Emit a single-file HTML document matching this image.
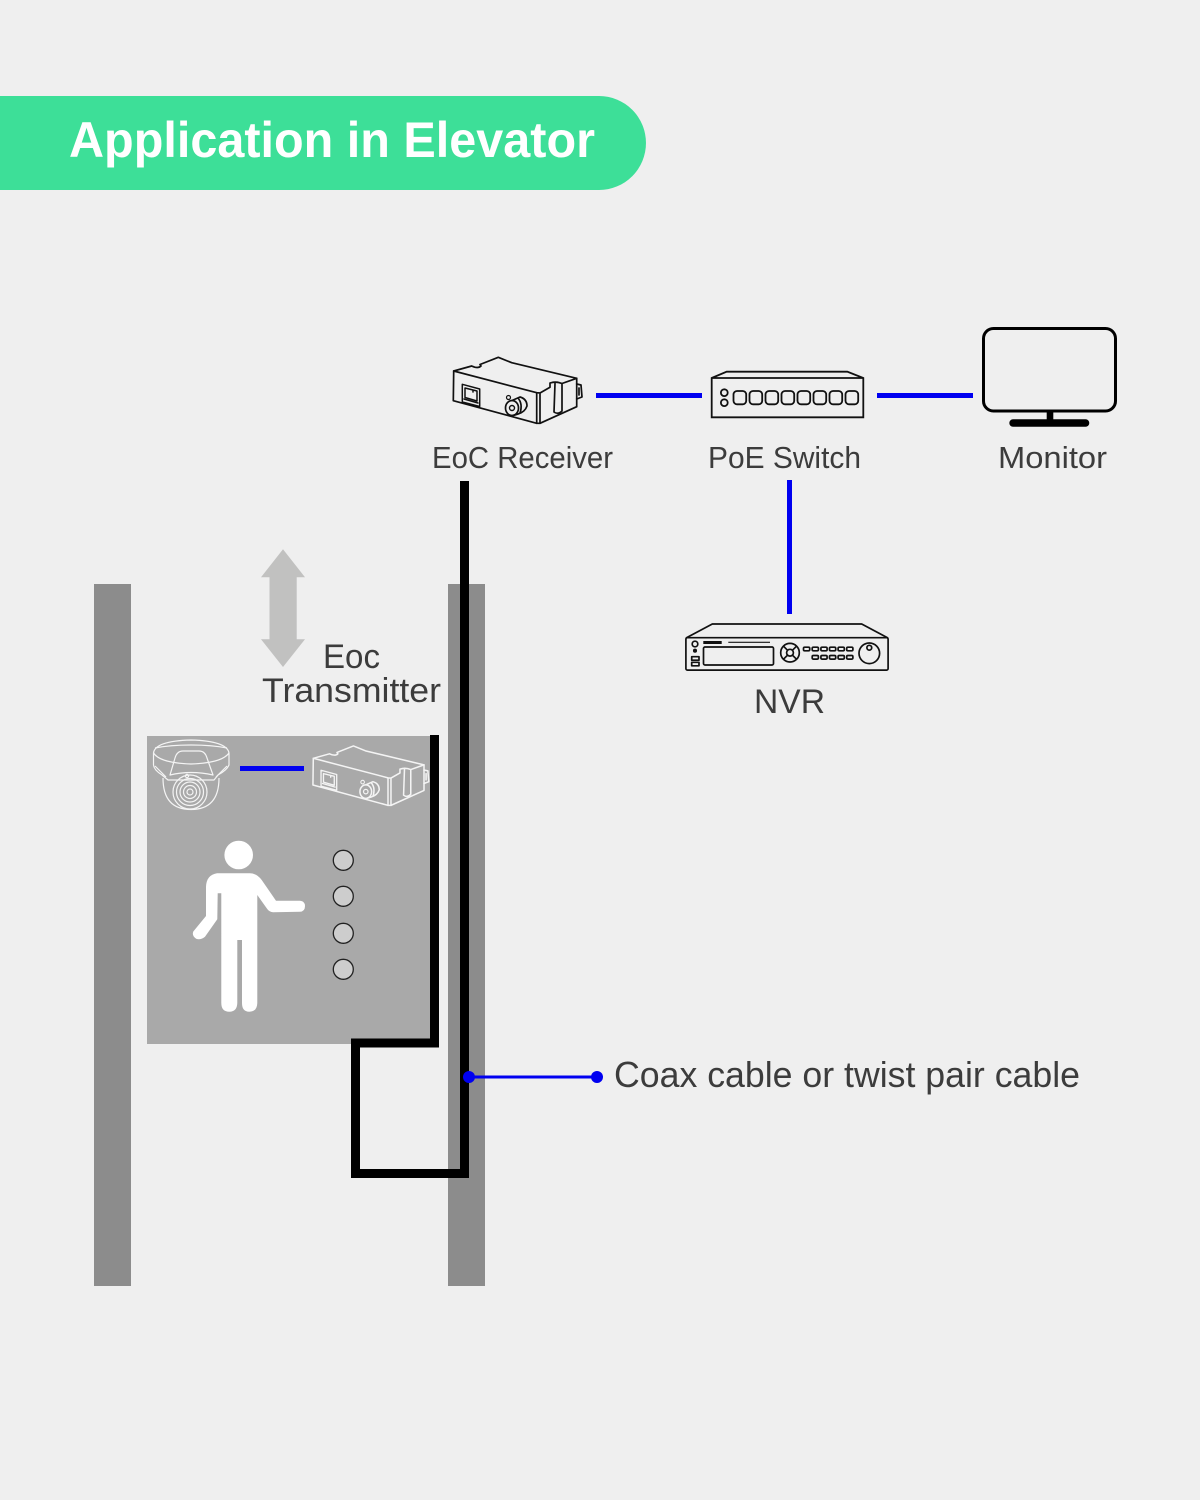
<!DOCTYPE html>
<html lang="en">
<head>
<meta charset="utf-8">
<title>Application in Elevator</title>
<style>
html,body{margin:0;padding:0;background:#efefef;width:1200px;height:1500px;overflow:hidden}
svg{display:block}
text{font-family:"Liberation Sans","DejaVu Sans",sans-serif;fill:#3c3c3c}
</style>
</head>
<body>
<svg width="1200" height="1500" viewBox="0 0 1200 1500" xmlns="http://www.w3.org/2000/svg">
<defs>
<g id="eoc" fill="none" stroke-linejoin="round" stroke-linecap="round">
  <path stroke-width="1.7" d="M453.7 371 L471.7 366 Q478 369 481 366 L480 364.5 L498.3 357.3 L511.7 362.7 L576.7 378.3 L576.7 406.7 L540 423.3 L536.7 423.3 L453.3 400.7 Z"/>
  <path stroke-width="1.7" d="M453.7 371 L536.7 392.7 L536.7 423.3 M540 393 L540 423.3 M536.7 392.7 L540 393 L550 387.3 L550 383 Q556 381 562 383.5 L562 411 M576.7 378.3 L562 383.5 M555 383.5 L554 412 Q558 415 562 411"/>
  <path stroke-width="1.7" d="M576.7 384 L581 385 L582 397 L576.7 399 M579 388 L579 395"/>
  <path stroke-width="1.5" d="M462.3 384.3 L479.7 389 L479.7 406.5 L462.3 402 Z M464 399 L478 403 M465 388 L477 391 L477 401 L465 397.5 Z M469 389 L473 390 L473 392"/>
  <ellipse cx="512" cy="408" rx="6.5" ry="7.5" stroke-width="1.7"/>
  <circle cx="512" cy="408" r="2.5" stroke-width="1.4"/>
  <circle cx="508.5" cy="397.5" r="2" stroke-width="1.2"/>
  <path stroke-width="1.7" d="M512 400.5 L520 397 Q527 399 527 406 Q525 412 518 414 L513 415.5 M518 398 Q523 404 520 413"/>
</g>
</defs>

<rect width="1200" height="1500" fill="#efefef"/>

<!-- Banner -->
<path d="M0 96 H599 A47 47 0 0 1 599 190 H0 Z" fill="#3ddf98"/>
<text x="69" y="157" font-size="50" font-weight="bold" style="fill:#fff" textLength="526" lengthAdjust="spacingAndGlyphs">Application in Elevator</text>

<!-- Shaft -->
<rect x="94" y="584" width="37" height="702" fill="#8c8c8c"/>
<rect x="448" y="584" width="37" height="702" fill="#8c8c8c"/>

<!-- Cabin -->
<rect x="147" y="736" width="292" height="308" fill="#a9a9a9"/>

<!-- Arrow -->
<path d="M283 549.3 L305 577.3 H296.7 V639.3 H305 L283 667 L261 639.3 H269.5 V577.3 H261 Z" fill="#c1c1c0"/>

<!-- Cable -->
<path d="M464.5 481 V1173.5 H355.5 V1043 H434.5 V735" fill="none" stroke="#000" stroke-width="9" stroke-linejoin="miter"/>

<!-- Blue connectors -->
<rect x="596" y="393" width="106" height="5" fill="#0000f0"/>
<rect x="877" y="393" width="96" height="5" fill="#0000f0"/>
<rect x="787" y="480" width="5" height="134" fill="#0000f0"/>
<rect x="240" y="766" width="64" height="5" fill="#0000f0"/>
<rect x="469" y="1075.5" width="128" height="3" fill="#0000f0"/>
<circle cx="469" cy="1077" r="6" fill="#0000f0"/>
<circle cx="597" cy="1077" r="6" fill="#0000f0"/>

<!-- EoC Receiver -->
<use href="#eoc" stroke="#111"/>

<!-- PoE Switch -->
<g fill="none" stroke="#111" stroke-width="1.8">
  <path d="M711.7 378 L726.7 371.7 H847.3 L863.3 378 V417.3 H711.7 Z M711.7 378 H863.3"/>
  <circle cx="724.3" cy="392.7" r="3.4"/>
  <circle cx="724.3" cy="402.7" r="3.4"/>
  <rect x="733.5" y="391" width="12.7" height="13.3" rx="3.5"/>
  <rect x="749.5" y="391" width="12.7" height="13.3" rx="3.5"/>
  <rect x="765.5" y="391" width="12.7" height="13.3" rx="3.5"/>
  <rect x="781.5" y="391" width="12.7" height="13.3" rx="3.5"/>
  <rect x="797.5" y="391" width="12.7" height="13.3" rx="3.5"/>
  <rect x="813.5" y="391" width="12.7" height="13.3" rx="3.5"/>
  <rect x="829.5" y="391" width="12.7" height="13.3" rx="3.5"/>
  <rect x="845.5" y="391" width="12.7" height="13.3" rx="3.5"/>
</g>

<!-- Monitor -->
<rect x="983.5" y="328.5" width="132" height="82.5" rx="10" fill="none" stroke="#000" stroke-width="3"/>
<rect x="1046.7" y="411" width="6.6" height="9" fill="#000"/>
<rect x="1009.3" y="419.3" width="80" height="7.4" rx="3.7" fill="#000"/>

<!-- NVR -->
<g fill="none" stroke="#111" stroke-width="1.7" stroke-linejoin="round">
  <path d="M686 638 L712.3 624 H861.7 L888 638"/>
  <rect x="685.9" y="637.7" width="202.2" height="32.4" rx="1.5"/>
  <circle cx="695" cy="644" r="2.8"/>
  <circle cx="695" cy="650.7" r="1.2" fill="#111"/>
  <rect x="691.7" y="656.7" width="7.3" height="3.5"/>
  <rect x="691.7" y="662.3" width="7.3" height="3.5"/>
  <rect x="703.5" y="647" width="70" height="18" rx="1.5"/>
  <circle cx="790" cy="652.7" r="9.3"/>
  <circle cx="790" cy="652.7" r="3.4"/>
  <path d="M783.5 646.2 L787.6 650.3 M796.5 646.2 L792.4 650.3 M783.5 659.2 L787.6 655.1 M796.5 659.2 L792.4 655.1"/>
  <rect x="803.5" y="647.2" width="6.2" height="3.6" rx="1.2"/>
  <rect x="812.2" y="647.2" width="6.2" height="3.6" rx="1.2"/>
  <rect x="820.9" y="647.2" width="6.2" height="3.6" rx="1.2"/>
  <rect x="829.5" y="647.2" width="6.2" height="3.6" rx="1.2"/>
  <rect x="838.1" y="647.2" width="6.2" height="3.6" rx="1.2"/>
  <rect x="846.7" y="647.2" width="6.2" height="3.6" rx="1.2"/>
  <rect x="812.2" y="655.5" width="6.2" height="3.6" rx="1.2"/>
  <rect x="820.9" y="655.5" width="6.2" height="3.6" rx="1.2"/>
  <rect x="829.5" y="655.5" width="6.2" height="3.6" rx="1.2"/>
  <rect x="838.1" y="655.5" width="6.2" height="3.6" rx="1.2"/>
  <rect x="846.7" y="655.5" width="6.2" height="3.6" rx="1.2"/>
  <circle cx="869.3" cy="653.3" r="10.3"/>
  <circle cx="869.3" cy="647.7" r="2.4"/>
</g>
<rect x="703.3" y="641" width="18.4" height="3" fill="#111"/>
<rect x="728.3" y="641.7" width="41.7" height="1.3" fill="#333"/>

<!-- Camera (white) -->
<g fill="none" stroke="#f4f4f4" stroke-width="1.2" stroke-linejoin="round">
  <path d="M153.5 753 Q155 741 191 740 Q227 741 229 753 L229 765 Q227 770 218 775 L214 780 L168 780 L162 775 Q154 770 153.5 765 Z"/>
  <path d="M153.5 753 Q160 763 191 764 Q222 763 229 753 M155 748 Q170 745 191 745 Q212 745 227 748"/>
  <path d="M170 775 L175 758 Q177 751 183 751 L199 751 Q205 751 207 758 L213 775 Q191 770 170 775 Z"/>
  <path d="M155 766 L166 777 M227 766 L216 777"/>
  <path d="M163 778 Q163 809.5 191 809.5 Q219 809.5 219 778"/>
  <circle cx="190" cy="792" r="17"/>
  <circle cx="190" cy="792" r="13.5"/>
  <circle cx="190" cy="792" r="10"/>
  <circle cx="190" cy="792" r="6.5"/>
  <circle cx="190" cy="792" r="3"/>
  <circle cx="187" cy="776" r="1.6"/>
</g>

<!-- EoC Transmitter (white) -->
<use href="#eoc" stroke="#f4f4f4" stroke-width="1" transform="translate(313.3 758.3) scale(.9) translate(-453.7 -371)"/>

<!-- Person -->
<circle cx="238.7" cy="855" r="14.3" fill="#fff"/>
<path fill="#fff" d="M217 873.3 H250 Q257 873.5 261.7 880 L276 900.7 H300 Q305 901 305 906 Q305 911.5 300 911.7 L273 912.3 Q269 912 266.7 908.3 L257.3 895 V1003 Q257 1011.7 249.3 1011.7 Q242 1011.7 242 1003 V940 H237.3 V1003 Q237 1011.7 229.3 1011.7 Q221.3 1011.7 221.3 1003 V893.3 H217.7 L217.3 919.3 L205 936.7 Q201 940 196.7 939 Q191.5 936 193.3 931.5 L206 916 V886.7 Q206.5 875 217 873.3 Z"/>

<!-- Floor buttons -->
<g fill="#cdcdcd" stroke="#222" stroke-width="1.3">
  <circle cx="343.3" cy="860.3" r="10"/>
  <circle cx="343.3" cy="896.3" r="10"/>
  <circle cx="343.3" cy="933.3" r="10"/>
  <circle cx="343.3" cy="969.3" r="10"/>
</g>

<!-- Labels -->
<text x="432" y="468" font-size="31" textLength="181" lengthAdjust="spacingAndGlyphs">EoC Receiver</text>
<text x="708" y="468" font-size="31" textLength="153" lengthAdjust="spacingAndGlyphs">PoE Switch</text>
<text x="998" y="468" font-size="31" textLength="109" lengthAdjust="spacingAndGlyphs">Monitor</text>
<text x="754" y="713" font-size="34" textLength="71" lengthAdjust="spacingAndGlyphs">NVR</text>
<text x="323" y="668" font-size="34" textLength="57" lengthAdjust="spacingAndGlyphs">Eoc</text>
<text x="262" y="702" font-size="34" textLength="179" lengthAdjust="spacingAndGlyphs">Transmitter</text>
<text x="614" y="1087" font-size="36" textLength="466" lengthAdjust="spacingAndGlyphs">Coax cable or twist pair cable</text>
</svg>
</body>
</html>
